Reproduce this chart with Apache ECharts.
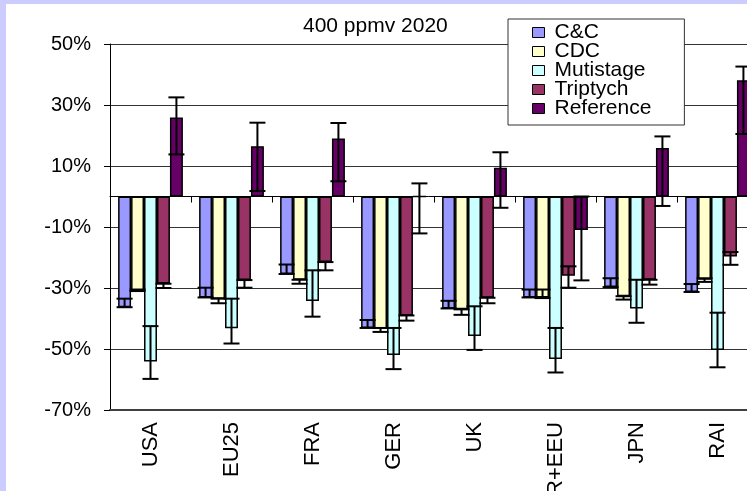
<!DOCTYPE html>
<html>
<head>
<meta charset="utf-8">
<script src="https://cdn.jsdelivr.net/npm/echarts@6/dist/echarts.min.js"></script>
<style>
html,body{margin:0;padding:0;background:#CCCCFF;overflow:hidden;width:747px;height:491px;}
#main{width:747px;height:491px;}
</style>
</head>
<body>
<div id="main"></div>
<script>
const categories = ['USA', 'EU25', 'FRA', 'GER', 'UK', 'R+EEU', 'JPN', 'RAI'];
const seriesNames = ['C&C', 'CDC', 'Mutistage', 'Triptych', 'Reference'];
const seriesColors = ['#9999FF', '#FFFFCC', '#CCFFFF', '#993366', '#660066'];
const yTicks = [-70, -50, -30, -10, 10, 30, 50];

const ccValues  = [-36.3, -33.1, -25.4, -43.1, -36.7, -33.1, -29.7, -31.3];
const ccLow     = [-36.3, -33.1, -25.4, -43.1, -36.7, -33.1, -29.7, -31.3];
const ccHigh    = [-33.5, -29.9, -22.3, -40.5, -34.2, -30.5, -26.8, -28.7];

const cdcValues = [-30.8, -33.5, -27.3, -43.3, -37.0, -33.1, -32.7, -27.3];
const cdcLow    = [-31.0, -35.0, -28.6, -44.4, -38.8, -33.3, -33.8, -28.0];
const cdcHigh   = [-30.5, -33.5, -27.3, -43.1, -37.0, -30.5, -32.7, -26.8];

const mutiValues = [-54.1, -43.2, -34.3, -52.0, -45.7, -53.3, -36.7, -50.3];
const mutiLow    = [-59.8, -48.2, -39.4, -56.6, -50.3, -57.7, -41.4, -56.0];
const mutiHigh   = [-42.5, -33.5, -24.2, -43.1, -36.0, -43.1, -27.3, -38.1];

const tripValues = [-28.5, -27.4, -21.5, -39.0, -33.2, -26.0, -27.3, -19.7];
const tripLow    = [-30.0, -29.9, -24.2, -40.7, -35.0, -29.9, -28.9, -22.4];
const tripHigh   = [-28.6, -27.4, -21.5, -39.0, -33.2, -22.9, -27.3, -18.2];

const refValues = [25.9, 16.5, 19.0, 0, 9.4, -11.0, 15.9, 38.1];
const refLow    = [13.8, 1.8, 5.0, -12.1, -3.7, -27.5, -3.1, 20.5];
const refHigh   = [32.5, 24.2, 24.1, 4.3, 14.5, 0, 19.7, 42.6];

const allValues = [ccValues, cdcValues, mutiValues, tripValues, refValues];
const allLow = [ccLow, cdcLow, mutiLow, tripLow, refLow];
const allHigh = [ccHigh, cdcHigh, mutiHigh, tripHigh, refHigh];

const FONT = 'Liberation Sans, Arial, sans-serif';
const CAT_GAP = 0.2;

const errData = [];
for (let s = 0; s < allValues.length; s++) {
  for (let c = 0; c < categories.length; c++) {
    errData.push([c, s, allLow[s][c], allHigh[s][c]]);
  }
}

const chart = echarts.init(document.getElementById('main'), null, {renderer: 'canvas', width: 747, height: 491});

const barSeries = seriesNames.map((name, i) => ({
  name: name,
  type: 'bar',
  xAxisIndex: 0,
  yAxisIndex: 0,
  data: allValues[i],
  barGap: '0%',
  barCategoryGap: (CAT_GAP * 100) + '%',
  itemStyle: {color: seriesColors[i], borderColor: '#000', borderWidth: 1.5},
  emphasis: {disabled: true},
  z: 3
}));

const errSeries = {
  type: 'custom',
  name: 'errors',
  xAxisIndex: 0,
  yAxisIndex: 0,
  data: errData,
  z: 5,
  silent: true,
  encode: {x: 0, y: [2, 3]},
  renderItem: function (params, api) {
    const cat = api.value(0);
    const s = api.value(1);
    const lo = api.value(2);
    const hi = api.value(3);
    const bw = api.size([1, 0])[0];
    const barW = bw * (1 - CAT_GAP) / seriesNames.length;
    const center = api.coord([cat, 0])[0];
    const x = center - bw * (1 - CAT_GAP) / 2 + (s + 0.5) * barW;
    const yTop = api.coord([cat, hi])[1];
    const yBot = api.coord([cat, lo])[1];
    const half = 8;
    const style = {stroke: '#000', lineWidth: 2};
    return {
      type: 'group',
      children: [
        {type: 'line', shape: {x1: x, y1: yTop, x2: x, y2: yBot}, style: style},
        {type: 'line', shape: {x1: x - half, y1: yTop, x2: x + half, y2: yTop}, style: style},
        {type: 'line', shape: {x1: x - half, y1: yBot, x2: x + half, y2: yBot}, style: style}
      ]
    };
  }
};

const option = {
  backgroundColor: '#CCCCFF',
  animation: false,
  graphic: [{
    type: 'rect', left: 6, top: 4, z: -10,
    shape: {width: 741, height: 487},
    style: {fill: '#FFFFFF'}
  }],
  title: {
    text: '400 ppmv 2020',
    left: 303, top: 16, padding: 0,
    textStyle: {fontFamily: FONT, fontSize: 21, fontWeight: 'normal', color: '#000'}
  },
  legend: {
    data: seriesNames,
    orient: 'vertical',
    left: 508, top: 19,
    padding: [3, 33, 6, 24],
    itemGap: -2,
    itemWidth: 12, itemHeight: 10,
    backgroundColor: '#FFFFFF',
    borderColor: '#333333', borderWidth: 1, borderRadius: 0,
    icon: 'rect',
    itemStyle: {borderColor: '#000', borderWidth: 1},
    selectedMode: false,
    textStyle: {fontFamily: FONT, fontSize: 21, color: '#000', padding: [0, 0, 0, 5]}
  },
  grid: {left: 110, top: 44, width: 648, height: 366, containLabel: false, outerBoundsMode: 'none'},
  xAxis: [{
    type: 'category',
    data: categories,
    position: 'bottom',
    axisLine: {onZero: false, lineStyle: {color: '#404040', width: 2}},
    axisTick: {show: false},
    splitLine: {show: false},
    axisLabel: {rotate: 90, margin: 12, fontFamily: FONT, fontSize: 22, color: '#000', interval: 0}
  }, {
    type: 'category',
    data: categories,
    position: 'bottom',
    axisLine: {onZero: true, onZeroAxisIndex: 0, lineStyle: {color: '#000', width: 1}},
    axisTick: {show: true, length: 6, inside: false, lineStyle: {color: '#000', width: 1}},
    axisLabel: {show: false},
    splitLine: {show: false},
    z: 6
  }],
  yAxis: [{
    type: 'value',
    min: yTicks[0], max: yTicks[yTicks.length - 1], interval: 20,
    axisLine: {show: true, onZero: false, lineStyle: {color: '#000', width: 1}},
    axisTick: {show: true, length: 6, lineStyle: {color: '#000'}},
    splitLine: {show: true, lineStyle: {color: '#333', width: 1}},
    axisLabel: {margin: 19, fontFamily: FONT, fontSize: 20, color: '#000', formatter: v => v + '%'}
  }],
  series: barSeries.concat([errSeries])
};
chart.setOption(option);
</script>
</body>
</html>
